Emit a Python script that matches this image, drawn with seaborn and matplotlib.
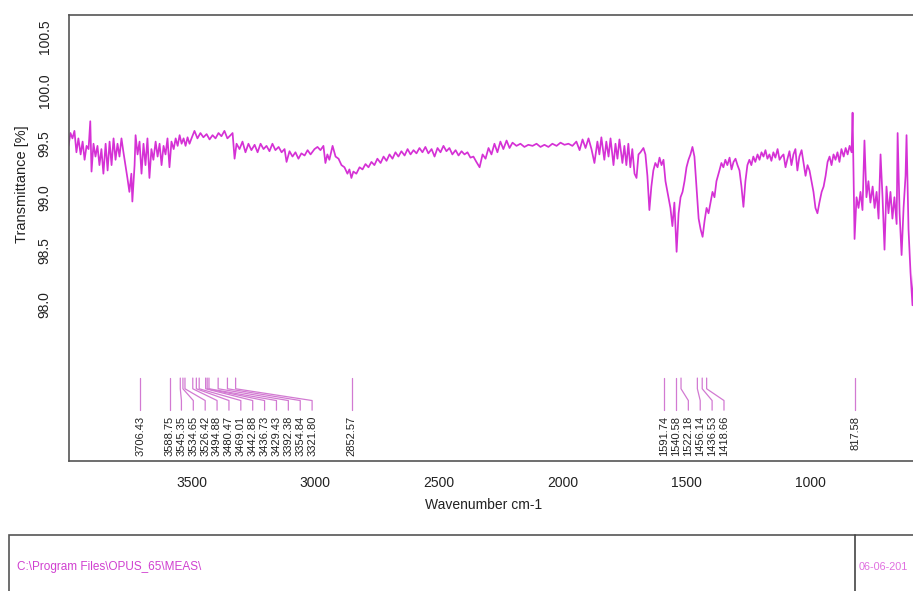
import matplotlib
matplotlib.use("Agg")
import matplotlib.pyplot as plt
import pandas as pd
import seaborn as sns
from matplotlib.lines import Line2D
from matplotlib.patches import Rectangle

# spectrum (wavenumber cm-1, transmittance %)
wavenumber = [
    3997, 3989, 3981, 3973, 3965, 3957, 3948, 3940, 3932, 3924, 3916, 3909, 3904, 3896,
    3888, 3880, 3872, 3864, 3856, 3847, 3839, 3831, 3823, 3815, 3807, 3799, 3791, 3783,
    3775, 3767, 3759, 3751, 3743, 3739, 3730, 3726, 3718, 3710, 3702, 3694, 3686, 3678,
    3670, 3662, 3654, 3645, 3637, 3629, 3621, 3613, 3605, 3597, 3589, 3581, 3572, 3564,
    3556, 3548, 3540, 3532, 3524, 3516, 3508, 3500,
    3488, 3476, 3464, 3452, 3439, 3427, 3415, 3403, 3391, 3379, 3367, 3355, 3342, 3334,
    3326, 3318, 3306, 3294, 3282, 3270, 3258, 3245, 3233, 3221, 3209, 3197, 3185, 3173,
    3161, 3148, 3136, 3124, 3116, 3104, 3092, 3080, 3068, 3056, 3043, 3031, 3019, 3003,
    2991, 2979, 2967, 2959, 2951, 2943, 2930, 2918, 2906, 2894, 2882, 2870, 2862, 2854,
    2846, 2834, 2821, 2809, 2797, 2785, 2773, 2761, 2749, 2736, 2724, 2712, 2700, 2688,
    2676, 2664, 2652, 2639, 2627, 2615, 2603, 2591, 2579, 2567, 2555, 2543, 2530, 2518,
    2506, 2494, 2482, 2470, 2458, 2446, 2433, 2421, 2409, 2397, 2385, 2373, 2361, 2349,
    2336, 2324, 2312, 2300, 2288, 2276, 2264, 2252, 2240, 2227, 2215, 2203, 2187, 2171,
    2155, 2139, 2122, 2106, 2090, 2074, 2058, 2042, 2025, 2009, 1993, 1977, 1961, 1945,
    1932, 1920, 1908, 1896, 1884, 1872, 1860, 1852, 1844, 1832, 1824, 1815, 1807, 1795,
    1787, 1779, 1771, 1759, 1751, 1743, 1735, 1727, 1719, 1710, 1702, 1694, 1686, 1674,
    1666, 1658, 1650, 1642, 1634, 1626, 1617, 1609, 1601, 1593, 1585, 1577, 1565, 1557,
    1549, 1540, 1532, 1524, 1516, 1508, 1500, 1492, 1484, 1476, 1468, 1460, 1451, 1443,
    1435, 1427, 1419, 1411, 1403, 1395, 1387, 1379, 1367, 1359, 1351, 1343, 1335, 1326,
    1318, 1310, 1302, 1294, 1286, 1278, 1270, 1262, 1254, 1246, 1238, 1230, 1222, 1213,
    1205, 1197, 1189, 1181, 1173, 1165, 1157, 1149, 1141, 1132, 1124, 1116, 1108, 1100,
    1092, 1084, 1076, 1068, 1060, 1052, 1044, 1035, 1027, 1019, 1011, 1003, 995, 987,
    979, 971, 963, 954, 946, 938, 930, 922, 914, 906, 898, 890, 882, 874, 865, 857, 849,
    841, 833, 829, 821, 813, 805, 797, 789, 781, 773, 765, 757, 748, 740, 732, 724, 716,
    708, 700, 692, 684, 676, 668, 660, 651, 647, 639, 631, 623, 615, 611, 603, 595, 587,
    579, 571,
]
transmittance = [
    99.48, 99.60, 99.55, 99.62, 99.42, 99.55, 99.40, 99.52, 99.35, 99.48, 99.45, 99.71, 99.24, 99.50,
    99.38, 99.48, 99.30, 99.45, 99.22, 99.50, 99.25, 99.52, 99.30, 99.55, 99.35, 99.50, 99.38, 99.55,
    99.42, 99.30, 99.18, 99.05, 99.22, 98.96, 99.30, 99.58, 99.40, 99.52, 99.22, 99.50, 99.30, 99.55,
    99.18, 99.45, 99.35, 99.52, 99.38, 99.50, 99.30, 99.48, 99.40, 99.55, 99.28, 99.52, 99.45, 99.55,
    99.48, 99.58, 99.50, 99.55, 99.48, 99.56, 99.50, 99.55,
    99.62, 99.55, 99.60, 99.56, 99.59, 99.54, 99.58, 99.55, 99.60, 99.57, 99.62, 99.55, 99.58, 99.60,
    99.36, 99.50, 99.45, 99.52, 99.42, 99.50, 99.44, 99.49, 99.42, 99.50, 99.45, 99.48, 99.43, 99.50,
    99.44, 99.47, 99.42, 99.45, 99.33, 99.43, 99.38, 99.42, 99.36, 99.41, 99.39, 99.44, 99.40, 99.45,
    99.47, 99.44, 99.48, 99.32, 99.40, 99.35, 99.48, 99.38, 99.36, 99.30, 99.28, 99.22, 99.26, 99.18,
    99.24, 99.22, 99.28, 99.26, 99.31, 99.28, 99.33, 99.30, 99.36, 99.32, 99.38, 99.34, 99.40, 99.36,
    99.42, 99.38, 99.43, 99.39, 99.45, 99.40, 99.44, 99.41, 99.46, 99.42, 99.47, 99.41, 99.45, 99.38,
    99.46, 99.42, 99.48, 99.43, 99.46, 99.40, 99.44, 99.39, 99.43, 99.40, 99.42, 99.37, 99.38, 99.33,
    99.28, 99.40, 99.36, 99.46, 99.40, 99.50, 99.42, 99.52, 99.45, 99.53, 99.46, 99.51, 99.48, 99.50,
    99.47, 99.49, 99.48, 99.50, 99.47, 99.49, 99.47, 99.50, 99.48, 99.51, 99.49, 99.50, 99.48, 99.52,
    99.44, 99.54, 99.46, 99.55, 99.45, 99.32, 99.52, 99.40, 99.56, 99.35, 99.52, 99.38, 99.55, 99.30,
    99.50, 99.36, 99.54, 99.32, 99.48, 99.30, 99.50, 99.28, 99.45, 99.22, 99.18, 99.40, 99.42, 99.46,
    99.40, 99.20, 98.88, 99.10, 99.25, 99.32, 99.28, 99.37, 99.30, 99.35, 99.15, 99.05, 98.90, 98.73,
    98.95, 98.49, 98.85, 99.00, 99.05, 99.15, 99.28, 99.35, 99.40, 99.47, 99.38, 99.10, 98.80, 98.70,
    98.63, 98.78, 98.90, 98.85, 98.95, 99.05, 99.00, 99.15, 99.25, 99.32, 99.28, 99.35, 99.30, 99.37,
    99.26, 99.33, 99.36, 99.30, 99.25, 99.10, 98.91, 99.15, 99.30, 99.35, 99.30, 99.38, 99.33, 99.40,
    99.35, 99.42, 99.38, 99.44, 99.36, 99.40, 99.34, 99.42, 99.37, 99.45, 99.35, 99.38, 99.40, 99.28,
    99.36, 99.43, 99.30, 99.40, 99.45, 99.25, 99.38, 99.44, 99.32, 99.20, 99.30, 99.25, 99.15, 99.05,
    98.90, 98.85, 98.95, 99.05, 99.10, 99.20, 99.33, 99.38, 99.30, 99.40, 99.35, 99.42, 99.33, 99.45, 99.38, 99.46, 99.40,
    99.48, 99.42, 99.79, 98.61, 99.00, 98.90, 99.05, 98.88, 99.53, 99.00, 99.15, 98.95, 99.10, 98.90, 99.05, 98.80, 99.40,
    99.00, 98.51, 99.10, 98.85, 99.05, 98.80, 99.00, 98.75, 99.60, 98.85, 98.46, 98.90, 99.20, 99.58, 98.70, 98.30, 97.99,
    98.40, 98.80,
]

# picked peaks shown under the spectrum
peak_positions = [
    3706.43, 3588.75, 3545.35, 3534.65, 3526.42, 3494.88, 3480.47, 3469.01, 3442.88,
    3436.73, 3429.43, 3392.38, 3354.84, 3321.80, 2852.57, 1591.74, 1540.58, 1522.18,
    1456.14, 1436.53, 1418.66, 817.58,
]
x_ticks = [3500, 3000, 2500, 2000, 1500, 1000]
y_ticks = [98.0, 98.5, 99.0, 99.5, 100.0, 100.5]

W, H = 913, 591
LINE = "#d531d5"
PEAK = "#d27ad2"
FONT = ["Liberation Sans", "DejaVu Sans"]

sns.set_theme(style="white")
plt.rcParams["font.family"] = FONT

fig = plt.figure(figsize=(W / 100, H / 100), dpi=100)
ax = fig.add_axes([68.5 / W, (H - 461) / H, 891 / W, 446 / H])

spec = pd.DataFrame({"wavenumber": wavenumber, "transmittance": transmittance})
sns.lineplot(data=spec, x="wavenumber", y="transmittance", color=LINE,
             linewidth=1.25, estimator=None, ax=ax)

# fan the crowded peak labels out so they do not overlap
gap = 48.0
label_pos = []
for p in peak_positions:
    if label_pos and label_pos[-1] - p < gap:
        label_pos.append(label_pos[-1] - gap)
    else:
        label_pos.append(p)

for p, lx in zip(peak_positions, label_pos):
    ax.plot([p, p, lx, lx], [97.31, 97.21, 97.10, 97.01], color=PEAK, linewidth=0.9)
    ax.text(lx, 96.96, f"{p:.2f}", rotation=90, ha="center", va="top",
            fontsize=8, color="#222222")

ax.set_xlim(3997, 397)
ax.set_ylim(96.535, 100.703)
ax.set_xticks(x_ticks)
ax.set_xticklabels([str(t) for t in x_ticks])
ax.set_yticks(y_ticks)
ax.set_yticklabels([f"{t:.1f}" for t in y_ticks])
ax.set_xlabel("")
ax.set_ylabel("")
ax.tick_params(axis="both", which="both", direction="out", length=5, width=1,
               color="#444444", labelsize=10, labelcolor="#222222")
ax.tick_params(axis="x", pad=6)
ax.tick_params(axis="y", pad=7)
for lab in ax.get_yticklabels():
    lab.set_rotation(90)
    lab.set_va("center")
for side in ax.spines.values():
    side.set_color("#555555")
    side.set_linewidth(1.2)
ax.grid(False)

fig.text(484 / W, (H - 505) / H, "Wavenumber cm-1", ha="center", va="center",
         fontsize=10, color="#222222")
fig.text(22 / W, (H - 184) / H, "Transmittance [%]", ha="center", va="center",
         rotation=90, fontsize=10.5, color="#222222")

# OPUS info box at the bottom
fig.add_artist(Rectangle((9 / W, -0.05), 1.0, (H - 535) / H + 0.05, transform=fig.transFigure,
                         fill=False, edgecolor="#555555", linewidth=1.2))
fig.add_artist(Line2D([855 / W, 855 / W], [-0.05, (H - 535) / H], transform=fig.transFigure,
                      color="#444444", linewidth=1.2))
fig.text(17 / W, (H - 567) / H, "C:\\Program Files\\OPUS_65\\MEAS\\", ha="left",
         va="center", fontsize=8.5, color="#d040d0")
fig.text(859 / W, (H - 567) / H, "06-06-201", ha="left", va="center",
         fontsize=7.8, color="#e070e0")

fig.savefig("out.png", dpi=100)
